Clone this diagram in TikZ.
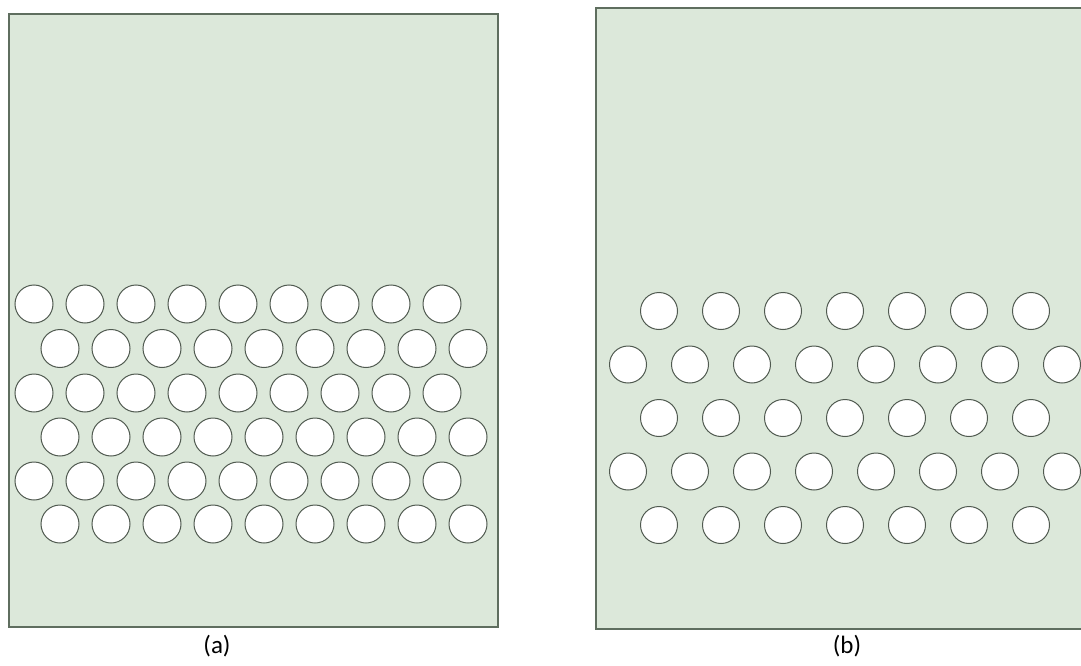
\documentclass[tikz,border=0pt]{standalone}
\usepackage{fontspec}
\setmainfont{Carlito}
\definecolor{panelfill}{RGB}{220,232,218}
\definecolor{panelline}{RGB}{95,110,95}
\definecolor{holeline}{RGB}{80,90,80}
\tikzset{
  panel/.style={fill=panelfill, draw=panelline, line width=1.4pt},
  hole/.style={fill=white, draw=holeline, line width=1pt},
  caption/.style={font=\fontsize{25}{30}\selectfont, inner sep=0pt}
}
\begin{document}
\begin{tikzpicture}[x=1pt,y=-1pt]
\useasboundingbox (0,0) rectangle (1081,666);
% left panel
\draw[panel] (9,14) rectangle (498,627);
% right panel (open at the right edge)
\fill[panelfill] (596,8) rectangle (1081,629);
\draw[draw=panelline, line width=1.4pt] (1081,8) -- (596,8) -- (596,629) -- (1081,629);
% left holes
\foreach \y [count=\r] in {304,348.5,393,437,481,524} {
  \pgfmathsetmacro{\xo}{mod(\r,2)==1 ? 34 : 60}
  \foreach \k in {0,...,8} {
    \draw[hole] (\xo+51*\k,\y) circle (19);
  }
}
% right holes
\foreach \y [count=\r] in {311,364.5,418,471.5,525} {
  \ifodd\r
    \foreach \k in {0,...,6} { \draw[hole] (659+62*\k,\y) circle (18.5); }
  \else
    \foreach \k in {0,...,7} { \draw[hole] (628+62*\k,\y) circle (18.5); }
  \fi
}
\node[caption] (la) at (217,646) {(a)};
\node[caption] (lb) at (847,646) {(b)};
\end{tikzpicture}
\end{document}
